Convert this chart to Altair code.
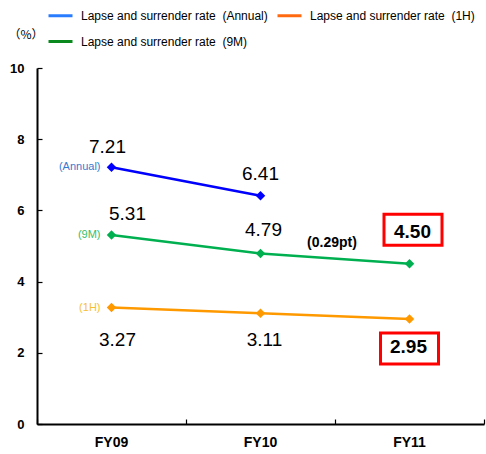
import altair as alt
import pandas as pd

# ---- data ----
years = ["FY09", "FY10", "FY11"]
series_names = ["Annual", "1H", "9M"]
annual_rate = [7.21, 6.41]
half_year_rate = [3.27, 3.11, 2.95]
nine_month_rate = [5.31, 4.79, 4.50]
y_tick_values = [0, 2, 4, 6, 8, 10]
GAP = "\u00a0\u00a0"
legend_labels = [
    "Lapse and surrender rate" + GAP + "(Annual)",
    "Lapse and surrender rate" + GAP + "(1H)",
    "Lapse and surrender rate" + GAP + "(9M)",
]
change_note = "(0.29pt)"
unit_label = "（%）"

# ---- styling ----
FONT = "Liberation Sans, Arial, Noto Sans CJK JP, sans-serif"
CJK_FONT = "Noto Sans CJK JP, Liberation Sans, sans-serif"
line_colors = {"Annual": "#0000ff", "1H": "#ff9900", "9M": "#00b050"}
tag_colors = {"Annual": "#3a78d0", "1H": "#f8c030", "9M": "#36be6a"}
legend_colors = {"Annual": "#2a7cff", "1H": "#ff6a10", "9M": "#0a8a1e"}
# legend grid fills column by column: Annual / 9M on the left, 1H on the right
legend_order = ["Annual", "9M", "1H"]

# text offsets (px) for each value label: (dx, dy)
label_offsets = {
    ("Annual", "FY09"): (-4, -20),
    ("Annual", "FY10"): (0, -22),
    ("9M", "FY09"): (16, -21),
    ("9M", "FY10"): (3, -23),
    ("9M", "FY11"): (3, -32),
    ("1H", "FY09"): (6, 32),
    ("1H", "FY10"): (4, 27),
    ("1H", "FY11"): (-1, 28),
}
# highlighted boxes around the latest values: (dx, dy)
box_offsets = {("9M", "FY11"): (3.5, -34), ("1H", "FY11"): (0, 29.5)}

values = {"Annual": annual_rate, "1H": half_year_rate, "9M": nine_month_rate}
legend_of = dict(zip(series_names, legend_labels))
rows = []
for name in series_names:
    for yr, v in zip(years, values[name]):
        rows.append({
            "series": name,
            "year": yr,
            "value": v,
            "label": f"{v:.2f}",
            "tag": f"({name})",
            "legend": legend_of[name],
            "line_color": line_colors[name],
            "tag_color": tag_colors[name],
        })
df = pd.DataFrame(rows)

x_scale = alt.Scale(type="band", domain=years, paddingInner=0, paddingOuter=0)
y_scale = alt.Scale(domain=[0, 10])

base = alt.Chart(df)


def X(axis=None):
    return alt.X("year:N", scale=x_scale, axis=axis, sort=years)


def Y(axis=None):
    return alt.Y("value:Q", scale=y_scale, axis=axis)


# main axes: domain lines and labels
main_x_axis = alt.Axis(
    orient="bottom", title=None, ticks=False, labelAngle=0, labelPadding=11,
    labelFont=FONT, labelFontSize=14, labelFontWeight="bold", labelColor="#000",
    domainColor="#000", domainWidth=2,
)
main_y_axis = alt.Axis(
    orient="left", values=y_tick_values, ticks=False, grid=False, labelPadding=13,
    labelFont=FONT, labelFontSize=13, labelFontWeight="bold", labelColor="#000",
    domainColor="#000", domainWidth=2,
    title=unit_label, titleAngle=0, titleX=-29, titleY=-34, titleAlign="left",
    titleBaseline="middle", titleFont=CJK_FONT, titleFontSize=12, titleFontWeight="normal",
    titleColor="#000",
)
# inward-pointing tick marks
tick_x_axis = alt.Axis(
    orient="bottom", title=None, labels=False, domain=False, tickBand="extent",
    tickSize=5, offset=-5, tickColor="#000", tickWidth=1.2,
)
tick_y_axis = alt.Axis(
    orient="left", title=None, labels=False, domain=False, grid=False,
    values=y_tick_values, tickSize=5, offset=-5, tickColor="#000", tickWidth=1.2,
)

ticks_layer = base.mark_point(opacity=0).encode(x=X(tick_x_axis), y=Y(tick_y_axis))

legend_layer = base.mark_line(opacity=0).encode(
    x=X(), y=Y(),
    stroke=alt.Stroke(
        "legend:N",
        scale=alt.Scale(
            domain=[legend_of[s] for s in legend_order],
            range=[legend_colors[s] for s in legend_order],
        ),
        legend=alt.Legend(
            orient="none", legendX=10, legendY=-66, columns=2, columnPadding=3,
            rowPadding=6, symbolType="stroke", symbolSize=576, symbolStrokeWidth=3,
            symbolOpacity=1, labelFont=FONT, labelFontSize=12, labelColor="#000",
            labelOffset=7, labelLimit=0, title=None, padding=0,
        ),
    ),
)

lines = base.mark_line(strokeWidth=2.5).encode(
    x=X(main_x_axis), y=Y(main_y_axis),
    color=alt.Color("line_color:N", scale=None),
    detail="series:N",
)

points = base.mark_point(shape="diamond", filled=True, size=90, opacity=1).encode(
    x=X(), y=Y(), color=alt.Color("line_color:N", scale=None),
)

tags = base.transform_filter(alt.datum.year == years[0]).mark_text(
    align="right", baseline="middle", dx=-11, font=FONT, fontSize=11,
).encode(x=X(), y=Y(), text="tag:N", color=alt.Color("tag_color:N", scale=None))

layers = [ticks_layer, legend_layer, lines, points, tags]

for (name, yr), (dx, dy) in label_offsets.items():
    boxed = (name, yr) in box_offsets
    layers.append(
        base.transform_filter(
            (alt.datum.series == name) & (alt.datum.year == yr)
        ).mark_text(
            align="center", baseline="middle", dx=dx, dy=dy, font=FONT,
            fontSize=19, fontWeight="bold" if boxed else "normal", color="#000",
        ).encode(x=X(), y=Y(), text="label:N")
    )

box_path = "M-1,-0.534L1,-0.534L1,0.534L-1,0.534Z"
for (name, yr), (dx, dy) in box_offsets.items():
    layers.append(
        base.transform_filter(
            (alt.datum.series == name) & (alt.datum.year == yr)
        ).mark_point(
            shape=box_path, size=58 * 58, filled=False, stroke="#ff0000",
            strokeWidth=3, opacity=1, xOffset=dx, yOffset=dy,
        ).encode(x=X(), y=Y())
    )

note = base.transform_filter(
    (alt.datum.series == "9M") & (alt.datum.year == years[-1])
).mark_text(
    align="center", baseline="middle", dx=-77.5, dy=-21, font=FONT,
    fontSize=14, fontWeight="bold", color="#000",
).encode(x=X(), y=Y(), text=alt.value(change_note))
layers.append(note)

chart = (
    alt.layer(*layers)
    .resolve_axis(x="independent", y="independent")
    .properties(
        width=447, height=356,
        autosize=alt.AutoSizeParams(type="none"),
        padding={"left": 37, "top": 68, "right": 2, "bottom": 30},
        background="#ffffff",
    )
    .configure_view(stroke=None)
)

chart.save("out.html", embed_options={"renderer": "svg", "actions": False})
